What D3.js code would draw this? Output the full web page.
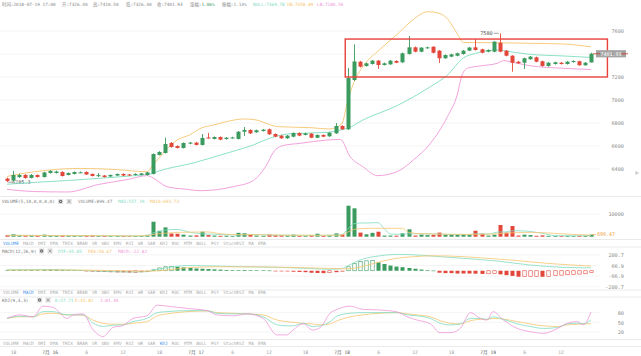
<!DOCTYPE html>
<html><head><meta charset="utf-8">
<script src="https://cdn.jsdelivr.net/npm/d3@7"></script>
<style>
body{margin:0;background:#fff}
svg{display:block}
text{font-family:"DejaVu Sans Mono","Noto Sans CJK SC",monospace}
</style>
</head><body>
<svg id="c" width="641" height="356"></svg>
<script>
// ---------- DATA ----------
const open = [6317,6300,6330,6348,6322,6348,6330,6365,6365,6374,
6348,6357,6370,6374,6357,6343,6343,6335,6343,6357,
6352,6348,6348,6348,6357,6522,6539,6626,6600,6583,
6620,6629,6609,6674,6661,6678,6661,6670,6661,6724,
6739,6719,6730,6745,6704,6690,6667,6681,6713,6696,
6707,6672,6696,6684,6710,6774,6745,7174,7333,7296,
7313,7342,7304,7310,7339,7328,7400,7458,7420,7450,
7463,7429,7363,7377,7385,7400,7429,7458,7441,7420,
7420,7498,7429,7385,7333,7324,7354,7371,7337,7296,
7313,7324,7313,7330,7337,7302,7326.4];
const close = [6296,6348,6348,6322,6348,6330,6370,6383,6378,6339,
6365,6374,6371,6352,6339,6346,6330,6348,6357,6343,
6343,6357,6361,6370,6530,6548,6617,6591,6583,6626,
6629,6609,6670,6670,6678,6655,6672,6674,6724,6739,
6710,6737,6742,6702,6681,6667,6690,6713,6690,6710,
6672,6696,6681,6716,6774,6745,7191,7335,7290,7319,
7342,7304,7319,7342,7324,7406,7458,7420,7455,7458,
7411,7363,7391,7397,7406,7429,7456,7435,7411,7435,
7507,7420,7385,7324,7319,7363,7377,7333,7296,7324,
7328,7313,7333,7339,7302,7324,7401.93];
const high = [6325,6383,6360,6355,6355,6352,6375,6390,6385,6380,
6370,6378,6378,6380,6360,6365,6348,6352,6360,6362,
6357,6362,6365,6375,6535,6555,6672,6635,6605,6630,
6635,6635,6704,6713,6683,6683,6678,6680,6730,6765,
6745,6742,6748,6752,6710,6695,6695,6718,6718,6715,
6712,6700,6700,6720,6800,6780,7278,7483,7340,7325,
7348,7348,7325,7348,7345,7412,7556,7465,7460,7463,
7468,7435,7396,7402,7412,7435,7462,7530,7446,7440,
7512,7580,7435,7390,7338,7368,7382,7377,7342,7330,
7333,7330,7338,7345,7342,7330,7410.5];
const low = [6285.3,6292,6322,6315,6318,6325,6326,6360,6360,6335,
6345,6352,6365,6348,6335,6330,6326,6330,6339,6339,
6339,6343,6345,6343,6352,6518,6535,6585,6578,6578,
6615,6605,6605,6665,6657,6650,6655,6665,6657,6687,
6705,6715,6726,6697,6676,6662,6662,6676,6685,6692,
6668,6668,6677,6680,6705,6740,6740,7165,7283,7290,
7308,7270,7300,7305,7320,7322,7395,7415,7415,7445,
7405,7322,7358,7372,7380,7395,7425,7430,7406,7415,
7415,7415,7380,7246,7314,7270,7350,7328,7290,7290,
7308,7308,7308,7325,7298,7298,7326.3];
const volume = [650,1050,600,500,700,450,900,500,400,700,
350,400,250,500,600,300,350,300,350,300,
250,300,350,800,6600,2600,4100,1400,1300,900,
500,600,2200,700,500,400,450,300,1700,1500,
800,500,400,900,700,600,500,900,400,300,
500,1300,400,600,1450,900,13650,12500,1800,1050,
1700,2200,500,500,450,1500,3250,500,900,700,
800,1800,800,900,900,1000,900,2600,1300,500,
900,5150,1800,4700,500,900,700,400,600,400,
350,300,400,300,350,400,899.47];
// Bollinger lines: [candle index, price]
const bollMid = [[0,6267],[5,6285],[10,6300],[15,6318],[20,6338],[23.5,6355],[25,6383],[30.6,6452],[36.2,6539],[40.5,6609],[42.8,6660],[45,6695],[47,6708],[52.6,6718],[54.8,6738],[56,6754],[58.5,6826],[64,6948],[69.6,7116],[72.4,7217],[75,7365],[77,7405],[80.6,7435],[82.7,7420],[86,7397],[91.4,7383],[96,7370]];
const bollUp = [[0,6335],[2,6356],[7,6391],[12,6405],[18,6395],[23,6376],[24,6435],[25,6496],[26,6557],[28,6652],[30,6696],[32,6757],[34,6783],[36,6811],[39,6835],[41,6826],[43,6789],[44.5,6768],[50,6759],[53,6748],[55,6790],[56,6990],[57,7150],[58.5,7290],[61.3,7440],[64,7565],[66.3,7678],[69.2,7768],[71,7755],[72.5,7700],[73.5,7620],[74.2,7560],[75,7500],[80.6,7498],[86,7493],[91.4,7487],[96,7462]];
const bollLow = [[0,6223],[4.3,6204],[10,6200],[15,6265],[20,6310],[23,6342],[24,6322],[26.3,6246],[29.6,6223],[31.7,6211],[37.2,6246],[40.5,6300],[42.5,6420],[44,6560],[45.5,6605],[48.2,6623],[52.6,6652],[54.8,6657],[56.4,6507],[58.5,6420],[60.9,6342],[64.1,6376],[66.8,6478],[69.6,6623],[72.4,6855],[74,7043],[74.8,7217],[75.7,7276],[77.8,7296],[80.6,7319],[81.6,7342],[83.9,7319],[86,7298],[91.4,7276],[96,7265]];
// volume moving averages: [candle index, value]
const volMa5 = [[0,600],[10,480],[20,330],[23,400],[24,1660],[25,2130],[26,2930],[28,3200],[30,2000],[32,1280],[34,1100],[36,860],[38,730],[40,1000],[44,660],[48,600],[52,580],[55,900],[56,3300],[57,5700],[58,6000],[60,6100],[61,6200],[62,3600],[63,1200],[64,1050],[66,1250],[68,1300],[70,1200],[73,1000],[76,900],[77,1300],[79,1200],[81,2100],[82,2100],[83,2600],[84,2600],[86,2300],[88,1500],[90,500],[93,400],[96,557.19]];
const volMa10 = [[0,600],[10,500],[20,380],[23,420],[24,1000],[26,1500],[28,1900],[30,2000],[33,2100],[35,1300],[38,900],[42,850],[46,650],[52,620],[55,700],[56,2000],[57,3200],[58,3500],[60,3700],[65,3700],[66,1900],[68,1350],[72,1100],[76,1000],[80,1200],[83,1700],[86,1900],[90,1500],[93,1000],[96,693.73]];
// MACD
const macdHist = [8,10,10,8,10,8,12,15,15,10,
8,8,5,-5,-10,-12,-15,-18,-20,-20,
-22,-20,-18,-15,15,35,50,55,50,42,
35,28,25,22,18,14,10,8,8,10,
8,6,5,3,-2,-5,-8,-12,-15,-18,
-25,-28,-30,-25,-18,-10,50,90,115,125,
128,105,85,65,52,45,35,25,15,8,
2,-25,-30,-30,-35,-35,-35,-37,-40,-38,
-36,-45,-55,-65,-75,-74,-72,-70,-76,-70,
-62,-55,-50,-45,-42,-38,-22.82];
const macdDif = [[0,12],[6,15],[10,10],[15,-5],[20,-15],[23,-12],[24,5],[26,35],[29.6,65],[33,62],[38,52],[45,42],[50,28],[53,18],[55,25],[56,62],[58.5,147],[61.3,188],[64,206],[67,200],[70,184],[75,156],[80.6,122],[86,72],[91.4,43],[96,35.85]];
const macdDea = [[0,8],[10,10],[15,5],[20,-2],[23,-5],[25,0],[27,15],[30,40],[35,50],[42,48],[48,40],[53,30],[56,25],[58.5,55],[61.3,113],[64,156],[67,178],[70,188],[72.4,186],[77.8,163],[83,134],[88.8,93],[96,58.67]];
// KDJ: [candle index, value]
const kdjIdx = [0,2.1,4.3,5.9,7.6,9.9,10.9,12.5,14.1,15.8,17.4,19.1,20.7,23,24.7,26.3,29.6,32.9,34.5,37.2,39.5,42.1,44.4,46,47,48.7,50.2,51.5,53.1,54.3,56.4,58.5,61.3,64.1,65.8,67.4,69.6,71.2,72.9,74.5,76.2,77.8,78.9,79.9,81.6,83.9,86,88.2,90.5,92.1,93.8,94.7,96];
const kVals = [62,69,67,83,83,73,73,73,48,37,41,42,52,62,80,83,86,86,78,76,76,67,42,39,39,47,37,39,52,70,78,80,80,80,73,70,62,47,42,45,62,62,59,67,59,45,37,31,34,45,47,45,57.71];
const dVals = [62,67,67,76,78,73,73,72,57,47,44,44,47,52,70,76,83,85,80,78,76,73,57,52,50,47,45,42,45,55,67,73,78,80,76,73,67,55,47,45,55,59,59,62,60,52,45,39,37,42,44,45,45.82];
const jVals = [62,73,67,100,96,62,73,76,28,6,34,40,62,70,103,100,93,86,73,70,76,62,11,11,26,45,26,34,78,90,100,90,88,82,67,57,45,18,18,31,80,62,57,83,57,31,21,16,31,47,52,42,81.49];
// axes
const priceTicks = [6400,6600,6800,7000,7200,7400,7600];
const volTicks = [10000];
const macdTicks = [-200.7,-66.9,66.9,200.7];
const kdjTicks = [20,50,80];
const timeTickIdx = [1,7,13,19,25,31,37,43,49,55,61,67,73,79,85,91];
const timeTickLabels = ["18","7月 16","6","12","18","7月 17","6","12","18","7月 18","6","12","18","7月 19","6","12"];
const tabs = ["VOLUME","MACD","DMI","DMA","TRIX","BRAR","VR","OBV","EMV","RSI","WR","SAR","KDJ","ROC","MTM","BOLL","PSY","StochRSI","MA","EMA"];
const headerLabels = ["时间:","开:","高:","低:","收:","涨幅:","振幅:","BOLL:","UB:","LB:"];
const headerValues = ["2018-07-19 17:00","7326.40","7410.50","7326.30","7401.93","1.06%","1.13%","7369.78","7458.89","7280.56"];
const boxAnno = [55.6, 98.7, 7200, 7530]; // idx from/to, price from/to
const lastPrice = 7401.93;

// ---------- DRAW ----------
const UP="#3b9a5e", DOWN="#e2473a", TEAL="#7fdcc2", ORANGE="#f6c56f", PINK="#f097d8", GRID="#f1f1f1", SEP="#e4e4e4", TXT="#8a8a8a";
const svg = d3.select("#c");
const x = d3.scaleLinear().domain([0,96]).range([7,591]);
const yP = d3.scaleLinear().domain([6165,7800]).range([196,8]);
const yV = d3.scaleLinear().domain([0,10000]).range([236.7,214]);
const yM = d3.scaleLinear().domain([-200.7,200.7]).range([286.7,254.8]);
const yK = d3.scaleLinear().domain([20,80]).range([332,312.6]);
const idx = d3.range(open.length);
const ly = yP(lastPrice);

// separators
[196.5,239.5,247,290,297,339.5,346.5].forEach(y=>{
  svg.append("line").attr("x1",0).attr("x2",641).attr("y1",y).attr("y2",y).attr("stroke",SEP).attr("stroke-width",0.8);
});

function gridAxis(scale, ticks, fmt, fs, hideNear){
  svg.append("g").selectAll("line").data(ticks).join("line")
    .attr("x1",0).attr("x2",600).attr("y1",d=>scale(d)).attr("y2",d=>scale(d))
    .attr("stroke",GRID).attr("stroke-width",0.8);
  const shown = hideNear==null ? ticks : ticks.filter(t=>Math.abs(scale(t)-hideNear)>6);
  const g = svg.append("g").attr("transform","translate(624,0)")
    .call(d3.axisLeft(scale).tickValues(shown).tickSize(0).tickPadding(0).tickFormat(fmt));
  g.select(".domain").remove();
  g.selectAll("text").attr("fill",TXT).style("font-size",fs+"px").attr("dy","0.35em").attr("font-family","DejaVu Sans Mono");
}
gridAxis(yP, priceTicks, d3.format("d"), 5.2, ly);
gridAxis(yV, volTicks, d3.format("d"), 5.2);
gridAxis(yM, macdTicks, d=>String(d), 5.2);
gridAxis(yK, kdjTicks, d3.format("d"), 5.2);

// min marker (drawn under candles)
const minI = d3.minIndex(low), maxI = d3.maxIndex(high);
svg.append("line").attr("x1",x(minI)+1).attr("x2",x(minI)+5).attr("y1",yP(low[minI])).attr("y2",yP(low[minI])).attr("stroke","#666").attr("stroke-width",0.6);
svg.append("text").attr("x",x(minI)+5).attr("y",yP(low[minI])).attr("dy","0.35em").attr("fill","#555").style("font-size","5.2px").text(low[minI]);

// Bollinger
const line = (ys)=>d3.line().x(d=>x(d[0])).y(d=>ys(d[1])).curve(d3.curveMonotoneX);
svg.append("path").datum(bollUp).attr("d",line(yP)).attr("fill","none").attr("stroke",ORANGE).attr("stroke-width",0.9);
svg.append("path").datum(bollMid).attr("d",line(yP)).attr("fill","none").attr("stroke",TEAL).attr("stroke-width",0.9);
svg.append("path").datum(bollLow).attr("d",line(yP)).attr("fill","none").attr("stroke",PINK).attr("stroke-width",0.9);

// candles
const col = i => close[i]>=open[i]?UP:DOWN;
svg.append("g").selectAll("line").data(idx).join("line")
  .attr("x1",i=>Math.round(x(i))+0.5).attr("x2",i=>Math.round(x(i))+0.5)
  .attr("y1",i=>yP(high[i])).attr("y2",i=>yP(low[i])).attr("stroke",col).attr("stroke-width",0.9);
svg.append("g").selectAll("rect").data(idx).join("rect")
  .attr("x",i=>Math.round(x(i))-1.5).attr("width",4)
  .attr("y",i=>yP(Math.max(open[i],close[i])))
  .attr("height",i=>Math.max(1,Math.abs(yP(open[i])-yP(close[i]))))
  .attr("fill",col);

// max marker
svg.append("line").attr("x1",x(maxI)-6).attr("x2",x(maxI)-1).attr("y1",yP(high[maxI])).attr("y2",yP(high[maxI])).attr("stroke","#666").attr("stroke-width",0.6);
svg.append("text").attr("x",x(maxI)-7).attr("y",yP(high[maxI])).attr("dy","0.35em").attr("text-anchor","end").attr("fill","#555").style("font-size","5.2px").text(high[maxI]);

// annotation box
svg.append("rect").attr("x",x(boxAnno[0])).attr("y",yP(boxAnno[3]))
  .attr("width",x(boxAnno[1])-x(boxAnno[0])).attr("height",yP(boxAnno[2])-yP(boxAnno[3]))
  .attr("fill","none").attr("stroke","#e8403b").attr("stroke-width",1.4);

// last price tag
svg.append("rect").attr("x",596).attr("y",ly-3.6).attr("width",30).attr("height",7.2).attr("fill","#a3a3a3");
svg.append("line").attr("x1",593).attr("x2",600).attr("y1",ly).attr("y2",ly).attr("stroke","#c0392b").attr("stroke-width",0.8);
svg.append("line").attr("x1",621).attr("x2",628).attr("y1",ly).attr("y2",ly).attr("stroke","#c0392b").attr("stroke-width",0.8);
svg.append("text").attr("x",611).attr("y",ly).attr("dy","0.35em").attr("text-anchor","middle").attr("fill","#fff").style("font-size","5px").text(lastPrice.toFixed(2));
svg.append("path").attr("d","M636,171 v4 M636,173 h3").attr("stroke","#999").attr("stroke-width",0.6).attr("fill","none");

// header
const hx = [2,62,93,126,157,190,222,253,287,317];
const hcol = ["#888","#888","#888","#888","#888",UP,"#888",TEAL,ORANGE,PINK];
headerLabels.forEach((l,i)=>{
  const t = svg.append("text").attr("x",hx[i]).attr("y",4.3).attr("dy","0.35em").style("font-size","4.4px");
  t.append("tspan").attr("fill",i>=7?hcol[i]:"#888").text(l);
  t.append("tspan").attr("fill",hcol[i]).text(headerValues[i]);
});

// volume
svg.append("g").selectAll("rect").data(idx).join("rect")
  .attr("x",i=>Math.round(x(i))-1.5).attr("width",4)
  .attr("y",i=>yV(volume[i])).attr("height",i=>Math.max(0.6,yV(0)-yV(volume[i])))
  .attr("fill",col);
svg.append("path").datum(volMa5).attr("d",line(yV)).attr("fill","none").attr("stroke",TEAL).attr("stroke-width",0.8);
svg.append("path").datum(volMa10).attr("d",line(yV)).attr("fill","none").attr("stroke",ORANGE).attr("stroke-width",0.8);
const vy = yV(volume[96]);
svg.append("line").attr("x1",592).attr("x2",596).attr("y1",vy).attr("y2",vy).attr("stroke","#f0a040").attr("stroke-width",0.7);
svg.append("text").attr("x",597).attr("y",vy).attr("dy","0.35em").attr("fill","#f0a040").style("font-size","5px").text(volume[96]);

// MACD
svg.append("g").selectAll("rect").data(idx).join("rect")
  .attr("x",i=>Math.round(x(i))-1.5).attr("width",4)
  .attr("y",i=>yM(Math.max(0,macdHist[i])))
  .attr("height",i=>Math.max(0.6,Math.abs(yM(macdHist[i])-yM(0))))
  .each(function(i){
    const v = macdHist[i], p = i>0?macdHist[i-1]:v;
    const c = v>=0?UP:DOWN;
    const hollow = v>p;
    const s = d3.select(this);
    if(hollow && Math.abs(yM(v)-yM(0))>1.5){ s.attr("fill","#fff").attr("stroke",c).attr("stroke-width",0.6).attr("x",Math.round(x(i))-1.2).attr("width",3.4); }
    else s.attr("fill",c);
  });
svg.append("path").datum(macdDif).attr("d",line(yM)).attr("fill","none").attr("stroke",TEAL).attr("stroke-width",0.8);
svg.append("path").datum(macdDea).attr("d",line(yM)).attr("fill","none").attr("stroke",ORANGE).attr("stroke-width",0.8);

// KDJ
const kl = arr => d3.line().x((d,i)=>x(kdjIdx[i])).y(d=>yK(d)).curve(d3.curveMonotoneX)(arr);
svg.append("path").attr("d",kl(dVals)).attr("fill","none").attr("stroke",ORANGE).attr("stroke-width",0.8);
svg.append("path").attr("d",kl(kVals)).attr("fill","none").attr("stroke",TEAL).attr("stroke-width",0.8);
svg.append("path").attr("d",kl(jVals)).attr("fill","none").attr("stroke",PINK).attr("stroke-width",0.8);

// pane headers
function icons(x0,y){
  svg.append("rect").attr("x",x0).attr("y",y-2.6).attr("width",5.2).attr("height",5.2).attr("fill","#e3e3e3");
  svg.append("circle").attr("cx",x0+2.6).attr("cy",y).attr("r",1.7).attr("fill","#6f6f6f");
  svg.append("circle").attr("cx",x0+2.6).attr("cy",y).attr("r",0.6).attr("fill","#e3e3e3");
  svg.append("rect").attr("x",x0+8.5).attr("y",y-2.6).attr("width",5.2).attr("height",5.2).attr("fill","#e3e3e3");
  svg.append("path").attr("d",`M${x0+9.7},${y-1.4}l2.8,2.8M${x0+12.5},${y-1.4}l-2.8,2.8`).attr("stroke","#777").attr("stroke-width",0.6);
}
function header(y, items){
  items.forEach(it=>svg.append("text").attr("x",it[0]).attr("y",y).attr("dy","0.35em").attr("fill",it[2]).style("font-size","4.4px").text(it[1]));
}
header(201.5,[[2,"VOLUME(5,10,0,0,0,0)","#777"],[78,"VOLUME:"+volume[96],"#888"],[118,"MA5:557.19",TEAL],[150,"MA10:693.73",ORANGE]]);
icons(58,201.5);
header(251,[[2,"MACD(12,26,9)","#777"],[58,"DIF:35.85",TEAL],[88,"DEA:58.67",ORANGE],[118,"MACD:"+macdHist[96],PINK]]);
icons(39,251);
header(300,[[2,"KDJ(9,3,3)","#777"],[55,"K:"+kVals[kVals.length-1],TEAL],[75,"D:"+dVals[dVals.length-1],ORANGE],[100,"J:"+jVals[jVals.length-1],PINK]]);
icons(37,300);

// tab bars
function tabBar(y, active){
  const g = svg.append("g");
  const ts = tabs.map(t=>g.append("text").attr("y",y).attr("dy","0.35em").style("font-size","4.4px")
     .attr("fill",t===active?"#3d8fe6":"#aaa").text(t));
  const w = ts.map(t=>t.node().getComputedTextLength());
  const gap = (263 - d3.sum(w))/(tabs.length-1);
  let cx = 3;
  ts.forEach((t,i)=>{t.attr("x",cx); cx += w[i]+gap;});
}
tabBar(243,"VOLUME");
tabBar(292.7,"MACD");
tabBar(343.2,"KDJ");

// x axis
const gx = svg.append("g").attr("transform","translate(0,349)")
  .call(d3.axisBottom(x).tickValues(timeTickIdx).tickSize(0).tickPadding(0).tickFormat((d,i)=>timeTickLabels[i]));
gx.select(".domain").remove();
gx.selectAll("text").attr("dy","0.35em").attr("y",3).style("font-size","4.6px")
  .attr("fill",(d,i)=>timeTickLabels[i].includes("月")?"#555":"#999");
</script>
</body></html>
